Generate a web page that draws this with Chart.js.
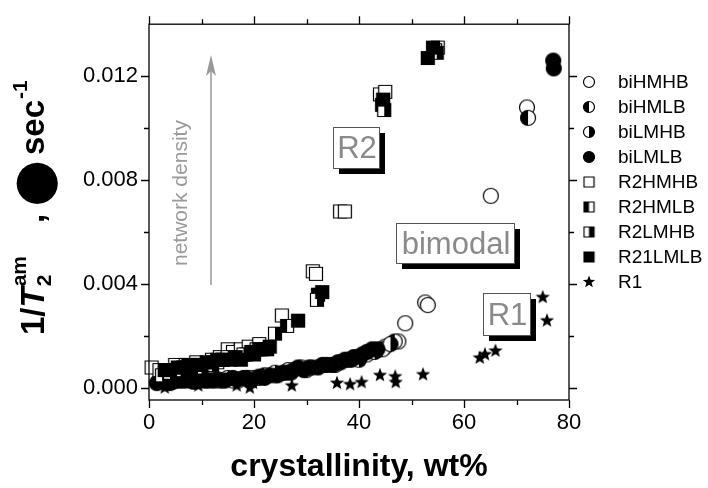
<!DOCTYPE html>
<html>
<head>
<meta charset="utf-8">
<script src="https://cdn.jsdelivr.net/npm/chart.js@4"></script>
<style>
  body { margin: 0; background: #fff; }
  canvas { display: block; }
</style>
</head>
<body>
<canvas id="chart" width="708" height="488"></canvas>
<script>
// tick values
var xTicks = [0, 20, 40, 60, 80];
var xMinor = [10, 30, 50, 70];
var yTicks = [0, 0.004, 0.008, 0.012];
var yMinor = [0.002, 0.006, 0.010];

var seriesNames = ['biHMHB', 'biHMLB', 'biLMHB', 'biLMLB', 'R2HMHB', 'R2HMLB', 'R2LMHB', 'R21LMLB', 'R1'];

// bimodal samples (circles)
var biHMHB = [[3,0.0003],[6,0.0003],[9,0.0003],[13.5,0.0003],[16,0.0003],[20,0.0004],[24,0.0005],[26.5,0.0007],[29,0.0008],[35.5,0.0009],[38,0.0011],[41.5,0.0013],[45,0.0016],[47.5,0.0018],[48.8,0.0025],[52.6,0.0033],[53.1,0.0032],[65.1,0.0074],[72,0.0108]];
var biHMLB = [[5,0.0003],[6.5,0.0003],[11,0.0003],[14,0.0003],[17,0.0003],[19,0.0004],[22,0.0005],[27.5,0.0007],[30,0.0007],[35,0.0009],[39,0.0012],[44.5,0.0015],[46.8,0.0018],[72.2,0.0104]];
var biLMHB = [[2,0.0003],[4.5,0.00025],[8,0.0003],[12.5,0.0003],[15,0.0004],[18.5,0.0004],[21,0.0004],[24,0.0006],[26,0.0006],[31,0.0008],[33.5,0.0009],[36.5,0.001],[40,0.0011],[43,0.0014],[46,0.0017]];
var biLMLB = [[1.5,0.0002],[2.5,0.00025],[4,0.0002],[5.5,0.0003],[7,0.0003],[8.5,0.00025],[10,0.0003],[11,0.0003],[12,0.0003],[13,0.00035],[14.5,0.0003],[16,0.0004],[17,0.00035],[18,0.0004],[19.5,0.0003],[21,0.00045],[22,0.0004],[23,0.0005],[24.5,0.0005],[25.5,0.0006],[27,0.0006],[28.4,0.0008],[29.5,0.0007],[30.5,0.0008],[32.2,0.0008],[33,0.0009],[34,0.0009],[35,0.0009],[36,0.0010],[37.3,0.0011],[38.5,0.0011],[39.5,0.0012],[40.6,0.0013],[41.5,0.0014],[42.5,0.0015],[43.5,0.0015],[77,0.0126],[77.1,0.0123]];

// R2 samples (squares)
var R2HMHB = [[0.5,0.0008],[2,0.0007],[5,0.0009],[7,0.0009],[9,0.001],[12,0.0011],[13.5,0.0012],[15,0.0015],[16,0.0014],[17.5,0.0015],[19,0.0016],[21,0.0017],[25.3,0.0028],[31.2,0.0045],[31.8,0.0044],[36.4,0.0068],[37.3,0.0068],[44,0.0113],[45,0.0114],[55,0.0131]];
var R2HMLB = [[3,0.0006],[5,0.0007],[7,0.0008],[9,0.0009],[11,0.0009],[13,0.001],[16,0.0012],[18.5,0.0013],[20,0.0014],[21.5,0.0015],[26.3,0.0024],[32.2,0.0036],[44.4,0.0109],[54.5,0.013]];
var R2LMHB = [[2.5,0.0005],[4,0.0006],[6,0.0007],[8,0.0008],[10,0.0008],[12,0.0009],[14,0.0011],[15,0.0012],[18,0.0013],[20.5,0.0015],[24,0.0021],[32,0.0034],[44.8,0.0107],[54.8,0.0129]];
var R21LMLB = [[3,0.0007],[4,0.0007],[5.5,0.0008],[6.5,0.0008],[7.5,0.0009],[8,0.0008],[9,0.0009],[10,0.0009],[11,0.001],[12,0.001],[13,0.0011],[14,0.0011],[15.5,0.0011],[16.5,0.0012],[17.5,0.0011],[19.5,0.0014],[20,0.0013],[21,0.0015],[22.5,0.0015],[23,0.0016],[28.4,0.0026],[33,0.0037],[44.6,0.0111],[53.1,0.0127],[54.1,0.0131]];

// R1 samples (stars)
var R1 = [[3,0.00002],[9.4,0.0001],[16.7,0.0001],[19.2,0.00002],[19.8,0.0002],[27.2,0.0001],[35.8,0.0002],[38.3,0.00015],[40.5,0.00023],[44,0.0005],[46.9,0.00045],[47,0.00023],[52.2,0.00053],[63,0.00117],[64,0.0013],[66,0.00144],[75,0.0035],[75.8,0.0026]];

var FONT = '"Liberation Sans", Arial, Helvetica, sans-serif';

// build a marker image: shape circle/square/star, fill none/full/left/right
function marker(shape, fill, size) {
  var c = document.createElement('canvas');
  var w = Math.ceil(size + 3);
  c.width = w; c.height = w;
  var g = c.getContext('2d');
  var m = w / 2, r = size / 2;
  g.lineWidth = 1.2;
  g.strokeStyle = '#000';
  g.beginPath();
  if (shape == 'circle') {
    g.arc(m, m, r, 0, Math.PI * 2);
  } else if (shape == 'square') {
    g.rect(m - r, m - r, size, size);
  } else {
    for (var i = 0; i < 10; i++) {
      var a = -Math.PI / 2 + i * Math.PI / 5;
      var rr = i % 2 ? r * 0.42 : r;
      g.lineTo(m + rr * Math.cos(a), m + rr * Math.sin(a));
    }
    g.closePath();
    g.fillStyle = '#000';
    g.fill();
    return c;
  }
  g.fillStyle = '#fff';
  g.fill();
  g.save();
  g.clip();
  g.fillStyle = '#000';
  if (fill == 'full') g.fillRect(0, 0, w, w);
  if (fill == 'left') g.fillRect(0, 0, m, w);
  if (fill == 'right') g.fillRect(m, 0, w, w);
  g.restore();
  g.stroke();
  return c;
}

var styles = [
  ['circle', 'none'], ['circle', 'left'], ['circle', 'right'], ['circle', 'full'],
  ['square', 'none'], ['square', 'left'], ['square', 'right'], ['square', 'full'],
  ['star', 'full']
];
var dataSize = { circle: 15, square: 13, star: 15 };
var legSize = { circle: 11, square: 10, star: 13 };
var seriesData = [biHMHB, biHMLB, biLMHB, biLMLB, R2HMHB, R2HMLB, R2LMHB, R21LMLB, R1];

var datasets = seriesNames.map(function(name, i) {
  var st = styles[i];
  return {
    label: name,
    data: seriesData[i].map(function(p) { return {x: p[0], y: p[1]}; }),
    pointStyle: marker(st[0], st[1], dataSize[st[0]]),
    legendStyle: marker(st[0], st[1], legSize[st[0]]),
    order: seriesNames.length - i,
    showLine: false,
    clip: false
  };
});

function setTicks(vals) {
  return function(scale) { scale.ticks = vals.map(function(v) { return {value: v}; }); };
}

// frame, ticks, legend, notes and y title
var decor = {
  id: 'decor',
  afterDraw: function(chart) {
    var g = chart.ctx, a = chart.chartArea;
    var sx = chart.scales.x, sy = chart.scales.y;
    g.save();
    g.strokeStyle = '#000';
    g.lineWidth = 1.3;
    g.strokeRect(a.left, a.top, a.right - a.left, a.bottom - a.top);
    function xt(v, len) {
      var p = Math.round(sx.getPixelForValue(v)) + 0.5;
      g.beginPath();
      g.moveTo(p, a.bottom); g.lineTo(p, a.bottom + len);
      g.moveTo(p, a.top); g.lineTo(p, a.top - len);
      g.stroke();
    }
    function yt(v, len) {
      var p = Math.round(sy.getPixelForValue(v)) + 0.5;
      g.beginPath();
      g.moveTo(a.left, p); g.lineTo(a.left - len, p);
      g.moveTo(a.right, p); g.lineTo(a.right + len, p);
      g.stroke();
    }
    xTicks.forEach(function(v) { xt(v, 8); });
    xMinor.forEach(function(v) { xt(v, 5); });
    yTicks.forEach(function(v) { yt(v, 8); });
    yMinor.forEach(function(v) { yt(v, 5); });

    // legend
    g.font = '19px ' + FONT;
    g.fillStyle = '#000';
    g.textBaseline = 'middle';
    g.textAlign = 'left';
    chart.data.datasets.forEach(function(ds, i) {
      var y = 82 + i * 25;
      var im = ds.legendStyle;
      g.drawImage(im, 589 - im.width / 2, y - im.height / 2);
      g.fillText(ds.label, 618, y + 1);
    });

    // network density arrow
    g.strokeStyle = '#999';
    g.fillStyle = '#999';
    g.lineWidth = 1.5;
    g.beginPath();
    g.moveTo(211, 285); g.lineTo(211, 66);
    g.stroke();
    g.beginPath();
    g.moveTo(211, 55); g.lineTo(216, 76); g.lineTo(211, 71); g.lineTo(206, 76);
    g.closePath();
    g.fill();
    g.save();
    g.translate(187, 266);
    g.rotate(-Math.PI / 2);
    g.fillStyle = '#9a9a9a';
    g.font = '21px ' + FONT;
    g.textBaseline = 'alphabetic';
    g.fillText('network density', 0, 0);
    g.restore();

    // labelled boxes with shadow
    function box(txt, x, y, w, h) {
      g.fillStyle = '#000';
      g.fillRect(x + 6, y + 6, w, h);
      g.fillStyle = '#fff';
      g.fillRect(x, y, w, h);
      g.strokeStyle = '#555';
      g.lineWidth = 1;
      g.strokeRect(x + 0.5, y + 0.5, w, h);
      g.fillStyle = '#8a8a8a';
      g.font = '31px ' + FONT;
      g.textAlign = 'center';
      g.textBaseline = 'middle';
      g.fillText(txt, x + w / 2 + 1, y + h / 2 + 2);
    }
    box('R2', 333, 127, 46, 41);
    box('bimodal', 396, 223, 118, 40);
    box('R1', 483, 293, 47, 42);

    // y axis title, pieces placed along the rotated baseline
    g.translate(44, 335);
    g.rotate(-Math.PI / 2);
    g.fillStyle = '#000';
    g.textAlign = 'left';
    g.textBaseline = 'alphabetic';
    function put(t, font, x, dy) {
      g.font = font;
      g.fillText(t, x, dy);
      return g.measureText(t).width;
    }
    var x = put('1/', 'bold 33px ' + FONT, 0, 0);
    x += put('T', 'italic bold 33px ' + FONT, x, 0);
    put('2', 'bold 21px ' + FONT, x + 1, 7);
    put('am', 'bold 21px ' + FONT, x + 1, -18);
    put(',', 'bold 33px ' + FONT, 112, 0);
    g.textBaseline = 'middle';
    put('\u25CF', 'bold 54px "DejaVu Sans"', 128, -7);
    g.textBaseline = 'alphabetic';
    x = 180;
    x += put('sec', 'bold 33px ' + FONT, x, 0);
    put('-1', 'bold 21px ' + FONT, x + 1, -17);
    g.restore();
  }
};

Chart.defaults.font.family = FONT;
Chart.defaults.color = '#000';

new Chart('chart', {
  type: 'scatter',
  data: { datasets: datasets },
  options: {
    responsive: false,
    animation: false,
    layout: { padding: 0 },
    plugins: { legend: { display: false }, tooltip: { enabled: false } },
    scales: {
      x: {
        type: 'linear', position: 'bottom', min: 0, max: 80,
        afterBuildTicks: setTicks(xTicks),
        afterFit: function(s) { s.height = 88; },
        grid: { display: false, drawTicks: false }, border: { display: false },
        ticks: { font: { size: 22 }, padding: 10, maxRotation: 0 },
        title: { display: true, text: 'crystallinity, wt%', font: { size: 32, weight: 'bold' }, padding: { top: 0, bottom: 2 } }
      },
      xTop: {
        type: 'linear', position: 'top', min: 0, max: 80,
        afterFit: function(s) { s.height = 18; },
        grid: { display: false, drawTicks: false }, border: { display: false },
        ticks: { display: false }
      },
      y: {
        type: 'linear', position: 'left', min: -0.00045, max: 0.014,
        afterBuildTicks: setTicks(yTicks),
        afterFit: function(s) { s.width = 149; },
        grid: { display: false, drawTicks: false }, border: { display: false },
        ticks: { font: { size: 22 }, padding: 11, callback: function(v) { return v.toFixed(3); } }
      },
      yRight: {
        type: 'linear', position: 'right', min: -0.00045, max: 0.014,
        afterFit: function(s) { s.width = 139; },
        grid: { display: false, drawTicks: false }, border: { display: false },
        ticks: { display: false }
      }
    }
  },
  plugins: [decor]
});
</script>
</body>
</html>
